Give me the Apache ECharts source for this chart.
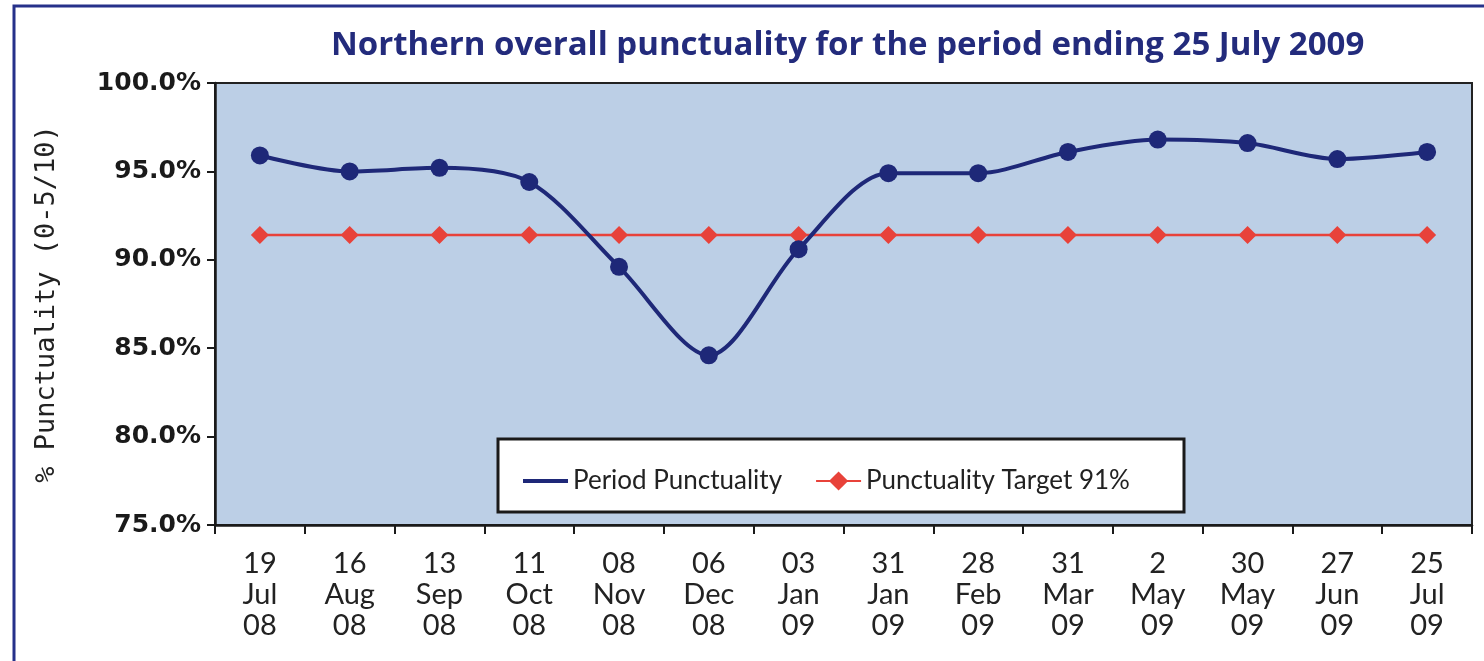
<!DOCTYPE html>
<html>
<head>
<meta charset="utf-8">
<script src="https://cdn.jsdelivr.net/npm/echarts@6/dist/echarts.min.js"></script>
<style>
  html, body { margin: 0; padding: 0; background: #fff; }
  #chart { width: 1484px; height: 661px; }
</style>
</head>
<body>
<div id="chart"></div>
<script>
// periods (day / month / year)
const categories = [
  '19\nJul\n08', '16\nAug\n08', '13\nSep\n08', '11\nOct\n08', '08\nNov\n08',
  '06\nDec\n08', '03\nJan\n09', '31\nJan\n09', '28\nFeb\n09', '31\nMar\n09',
  '2\nMay\n09', '30\nMay\n09', '27\nJun\n09', '25\nJul\n09'
];
const periodPunctuality = [95.9, 95.0, 95.2, 94.4, 89.6, 84.6, 90.6, 94.9, 94.9, 96.1, 96.8, 96.6, 95.7, 96.1];
const punctualityTarget = [91.4, 91.4, 91.4, 91.4, 91.4, 91.4, 91.4, 91.4, 91.4, 91.4, 91.4, 91.4, 91.4, 91.4];
const seriesNames = ['Period Punctuality', 'Punctuality Target 91%'];

const navy = '#1e2878';
const red = '#e8423a';
const labelFont = 'Lato, sans-serif';

const chart = echarts.init(document.getElementById('chart'));

const option = {
  animation: false,
  title: {
    text: 'Northern overall punctuality for the period ending 25 July 2009',
    left: 326,
    top: 24,
    textStyle: {
      fontFamily: '"Open Sans", sans-serif',
      fontSize: 33,
      fontWeight: 'bold',
      color: '#232b7c'
    }
  },
  graphic: [
    {
      type: 'rect',
      z: -10,
      shape: { x: 14, y: 6, width: 1600, height: 800 },
      style: { fill: 'none', stroke: '#26318a', lineWidth: 3 }
    },
    {
      type: 'rect',
      z: 3,
      shape: { x: 498, y: 439, width: 686, height: 73 },
      style: { fill: '#fff', stroke: '#1a1a1a', lineWidth: 3 }
    }
  ],
  legend: {
    z: 5,
    left: 518,
    top: 463,
    itemWidth: 45,
    itemHeight: 24,
    itemGap: 33,
    textStyle: { fontFamily: labelFont, fontSize: 26, color: '#222' },
    data: [
      { name: seriesNames[0], icon: 'path://M0,0H45V4H0Z' },
      { name: seriesNames[1] }
    ]
  },
  grid: {
    left: 215,
    top: 83,
    right: 12,
    bottom: 136,
    show: true,
    backgroundColor: '#bccfe6',
    borderColor: '#222',
    borderWidth: 2
  },
  xAxis: {
    type: 'category',
    data: categories,
    boundaryGap: true,
    axisLine: { lineStyle: { color: '#1a1a1a', width: 2.5 } },
    axisTick: { show: true, length: 9, lineStyle: { color: '#1a1a1a', width: 2 } },
    axisLabel: {
      interval: 0,
      margin: 23,
      fontFamily: labelFont,
      fontSize: 29,
      lineHeight: 31,
      color: '#222'
    },
    splitLine: { show: false }
  },
  yAxis: {
    type: 'value',
    min: 75,
    max: 100,
    interval: 5,
    name: '% Punctuality (0-5/10)',
    nameLocation: 'middle',
    nameRotate: 90,
    nameGap: 155,
    nameTextStyle: {
      fontFamily: '"DejaVu Sans Mono", monospace',
      fontSize: 27,
      color: '#222'
    },
    axisLine: { show: true, lineStyle: { color: '#1a1a1a', width: 2.5 } },
    axisTick: { show: true, length: 8, lineStyle: { color: '#1a1a1a', width: 2 } },
    axisLabel: {
      margin: 14,
      fontFamily: '"DejaVu Sans", sans-serif',
      fontWeight: 'bold',
      fontSize: 25,
      color: '#1a1a1a',
      formatter: v => v.toFixed(1) + '%'
    },
    splitLine: { show: false }
  },
  series: [
    {
      name: seriesNames[0],
      type: 'line',
      data: periodPunctuality,
      smooth: 0.3,
      symbol: 'circle',
      symbolSize: 18,
      z: 3,
      itemStyle: { color: navy },
      lineStyle: { color: navy, width: 4 }
    },
    {
      name: seriesNames[1],
      type: 'line',
      data: punctualityTarget,
      symbol: 'diamond',
      symbolSize: 18,
      z: 2,
      itemStyle: { color: red },
      lineStyle: { color: red, width: 2.5 }
    }
  ]
};

chart.setOption(option);

window.addEventListener('resize', () => {
  chart && chart.resize();
});
</script>
</body>
</html>
